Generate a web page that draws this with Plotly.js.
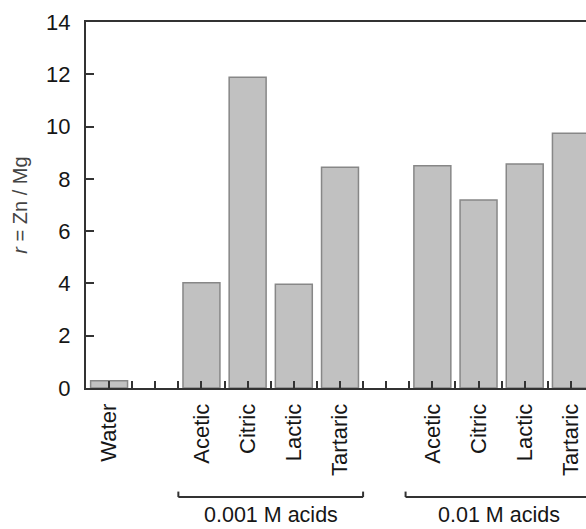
<!DOCTYPE html>
<html>
<head>
<meta charset="utf-8">
<script src="https://cdn.plot.ly/plotly-3.0.1.min.js"></script>
<style>
html, body { margin: 0; padding: 0; overflow: hidden; background: #fff; width: 586px; height: 529px; }
#chart { width: 620px; height: 529px; }
</style>
</head>
<body>
<div id="chart"></div>
<script>
// Categories (empty strings are the spacer slots between groups)
const categories = ["Water", "", "Acetic", "Citric", "Lactic", "Tartaric", "", "Acetic", "Citric", "Lactic", "Tartaric"];
// r = Zn / Mg values
const values = [0.28, null, 4.03, 11.89, 3.97, 8.44, null, 8.50, 7.19, 8.57, 9.74];
// y tick values
const yTicks = [0, 2, 4, 6, 8, 10, 12, 14];
// group brackets
const groupLabels = ["0.001 M acids", "0.01 M acids"];
const groupStart = [1.5, 6.42];
const groupEnd = [5.5, 10.45];

const pos = categories.map((_, i) => i);
// ticks at every slot centre and slot boundary
const xTickVals = [];
const xTickText = [];
categories.forEach((c, i) => {
  xTickVals.push(i); xTickText.push(c);
  xTickVals.push(i + 0.5); xTickText.push("");
});

const font = "Liberation Sans, Arial, Helvetica, sans-serif";
const textColor = "#161616";

const trace = {
  type: "bar",
  x: pos,
  y: values,
  width: 0.8,
  marker: { color: "#c1c1c1", line: { color: "#878787", width: 1.5 } },
  hoverinfo: "skip"
};

const shapes = [];
const annotations = [];
groupLabels.forEach((lab, k) => {
  const yLine = -0.298, yTop = -0.283;
  shapes.push({ type: "line", xref: "x", yref: "paper", x0: groupStart[k], x1: groupEnd[k], y0: yLine, y1: yLine, line: { color: "#333", width: 2 } });
  shapes.push({ type: "line", xref: "x", yref: "paper", x0: groupStart[k], x1: groupStart[k], y0: yLine, y1: yTop, line: { color: "#333", width: 2 } });
  shapes.push({ type: "line", xref: "x", yref: "paper", x0: groupEnd[k], x1: groupEnd[k], y0: yLine, y1: yTop, line: { color: "#333", width: 2 } });
  annotations.push({ xref: "x", yref: "paper", x: (groupStart[k] + groupEnd[k]) / 2, y: -0.347, text: lab, showarrow: false, xanchor: "center", yanchor: "middle", font: { family: font, size: 21.5, color: textColor } });
});

const layout = {
  width: 620,
  height: 529,
  margin: { l: 86, r: 26, t: 22, b: 141 },
  paper_bgcolor: "#fff",
  plot_bgcolor: "#fff",
  showlegend: false,
  xaxis: {
    range: [-0.5, 10.5],
    tickmode: "array",
    tickvals: xTickVals,
    ticktext: xTickText,
    tickangle: -90,
    ticks: "inside",
    ticklen: 7,
    tickwidth: 2,
    tickcolor: "#333",
    showline: true,
    linecolor: "#333",
    linewidth: 2,
    mirror: true,
    showgrid: false,
    zeroline: false,
    tickfont: { family: font, size: 22, color: textColor },
    ticklabelstandoff: 5
  },
  yaxis: {
    range: [0, 14],
    tickmode: "array",
    tickvals: yTicks,
    ticks: "inside",
    ticklen: 8,
    tickwidth: 2,
    tickcolor: "#333",
    showline: true,
    linecolor: "#333",
    linewidth: 2,
    mirror: true,
    showgrid: false,
    zeroline: false,
    tickfont: { family: font, size: 22, color: textColor },
    ticklabelstandoff: 9,
    title: { text: "<i>r</i> = Zn / Mg", font: { family: font, size: 20, color: "#444" }, standoff: 13 }
  },
  shapes: shapes,
  annotations: annotations
};

Plotly.newPlot("chart", [trace], layout, { displayModeBar: false, staticPlot: true });
</script>
</body>
</html>
